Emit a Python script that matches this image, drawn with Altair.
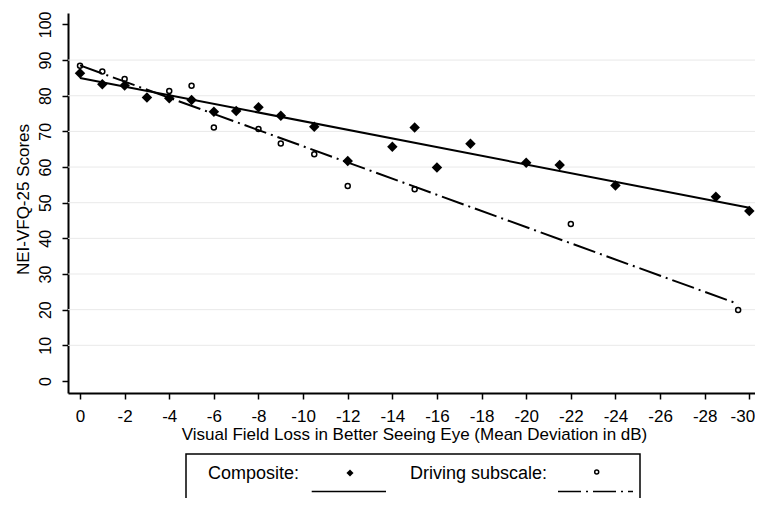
import altair as alt
import pandas as pd

# ---- data ----
comp_md = [0, -1, -2, -3, -4, -5, -6, -7, -8, -9, -10.5, -12, -14, -15, -16, -17.5, -20, -21.5, -24, -28.5, -30]
comp_score = [86.3, 83.2, 82.9, 79.5, 79.3, 78.8, 75.5, 75.7, 76.8, 74.4, 71.3, 61.7, 65.7, 71.1, 59.9, 66.5, 61.2, 60.6, 54.8, 51.7, 47.7]
drive_md = [0, -1, -2, -4, -5, -6, -8, -9, -10.5, -12, -15, -22, -29.5]
drive_score = [88.4, 86.8, 84.7, 81.3, 82.8, 71.1, 70.7, 66.6, 63.6, 54.7, 53.8, 44.0, 19.9]
# fitted lines as drawn in the reference (end points)
comp_fit_md = [0, -30]
comp_fit_score = [85.0, 48.6]
drive_fit_md = [0, -29.5]
drive_fit_score = [88.5, 21.6]
y_ticks = list(range(0, 101, 10))
x_ticks = list(range(0, -31, -2))
grid_values = list(range(10, 91, 10))
legend_labels = ["Composite:", "Driving subscale:"]
x_title = "Visual Field Loss in Better Seeing Eye (Mean Deviation in dB)"
y_title = "NEI-VFQ-25 Scores"

FONT = "Liberation Sans"

comp_df = pd.DataFrame({"md": comp_md, "score": comp_score})
drive_df = pd.DataFrame({"md": drive_md, "score": drive_score})
comp_fit_df = pd.DataFrame({"md": comp_fit_md, "score": comp_fit_score})
drive_fit_df = pd.DataFrame({"md": drive_fit_md, "score": drive_fit_score})
grid_df = pd.DataFrame({"score": grid_values})

x_scale = alt.Scale(domain=[-30.255, 0.538], reverse=True, nice=False, zero=False)
y_scale = alt.Scale(domain=[-3.37, 103.2], nice=False, zero=False)

x_axis = alt.Axis(
    values=x_ticks, title=x_title, labelExpr="'' + datum.value", grid=False,
    domainColor="black", domainWidth=2, tickColor="black", tickWidth=1.5, tickSize=6,
    labelFont=FONT, labelFontSize=17, labelColor="black", labelPadding=9, labelFlush=False,
    labelOffset={"condition": {"test": "datum.value == -30", "value": -7}, "value": 0},
    titleFont=FONT, titleFontSize=17, titleFontWeight="normal", titleColor="black",
    titleX=346, titleY=46, titleBaseline="alphabetic", titleAlign="center",
)
y_axis = alt.Axis(
    values=y_ticks, title=y_title, grid=False,
    domainColor="black", domainWidth=2, tickColor="black", tickWidth=1.5, tickSize=6,
    labelFont=FONT, labelFontSize=16, labelColor="black", labelAngle=270,
    labelAlign="center", labelBaseline="alphabetic", labelPadding=12, labelFlush=False,
    titleFont=FONT, titleFontSize=17, titleFontWeight="normal", titleColor="black",
    titleAngle=270, titleAlign="center", titleBaseline="alphabetic", titleX=-40, titleY=186,
)

def X():
    return alt.X("md:Q", scale=x_scale, axis=x_axis)

def Y():
    return alt.Y("score:Q", scale=y_scale, axis=y_axis)

grid = alt.Chart(grid_df).mark_rule(color="#e9e9e9", strokeWidth=1).encode(y=Y())

comp_pts = alt.Chart(comp_df).mark_point(
    shape="diamond", filled=True, size=110, color="black", opacity=1
).encode(x=X(), y=Y())

drive_pts = alt.Chart(drive_df).mark_point(
    shape="circle", filled=False, size=25, strokeWidth=1.5, color="black", opacity=1
).encode(x=X(), y=Y())

comp_line = alt.Chart(comp_fit_df).mark_line(
    color="black", strokeWidth=2
).encode(x=X(), y=Y())

drive_line = alt.Chart(drive_fit_df).mark_line(
    color="black", strokeWidth=2, strokeDash=[23, 5, 2, 5]
).encode(x=X(), y=Y())

# ---- custom legend box below the plot ----
one = pd.DataFrame({"a": [0]})
leg_box = alt.Chart(one).mark_rect(fill="white", stroke="black", strokeWidth=1.5).encode(
    x=alt.value(118), x2=alt.value(572), y=alt.value(441), y2=alt.value(520)
)
leg_t1 = alt.Chart(pd.DataFrame({"t": [legend_labels[0]]})).mark_text(
    align="left", baseline="alphabetic", font=FONT, fontSize=18, color="black"
).encode(x=alt.value(140), y=alt.value(466), text="t:N")
leg_t2 = alt.Chart(pd.DataFrame({"t": [legend_labels[1]]})).mark_text(
    align="left", baseline="alphabetic", font=FONT, fontSize=18, color="black"
).encode(x=alt.value(342), y=alt.value(466), text="t:N")
leg_d = alt.Chart(one).mark_point(shape="diamond", filled=True, size=50, color="black", opacity=1).encode(
    x=alt.value(282), y=alt.value(460)
)
leg_c = alt.Chart(one).mark_point(shape="circle", filled=False, size=16, strokeWidth=1.5, color="black", opacity=1).encode(
    x=alt.value(528.7), y=alt.value(459)
)
leg_l1 = alt.Chart(one).mark_rule(color="black", strokeWidth=1.5).encode(
    x=alt.value(243.7), x2=alt.value(318), y=alt.value(478.5)
)
leg_l2 = alt.Chart(one).mark_rule(color="black", strokeWidth=1.5, strokeDash=[23, 5, 2, 5]).encode(
    x=alt.value(490), x2=alt.value(565), y=alt.value(478.5)
)

chart = alt.layer(
    grid, comp_line, drive_line, comp_pts, drive_pts,
    leg_box, leg_t1, leg_t2, leg_d, leg_c, leg_l1, leg_l2,
).properties(
    width=687, height=380,
    autosize=alt.AutoSizeParams(type="none"),
    padding={"left": 60, "top": 5, "right": 0, "bottom": 105},
    background="white",
).configure_view(stroke=None)

chart.save("out.html", embed_options={"renderer": "svg", "actions": False})
